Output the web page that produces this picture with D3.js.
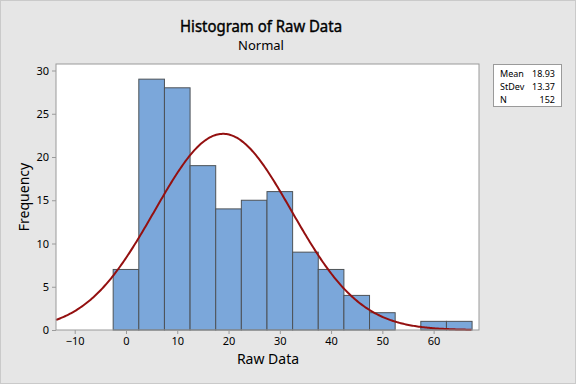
<!DOCTYPE html>
<html>
<head>
<meta charset="utf-8">
<script src="https://cdn.jsdelivr.net/npm/d3@7"></script>
<style>
  body { margin: 0; background: #e6e6e6; }
  svg { display: block; font-family: "Segoe UI", "Noto Sans", sans-serif; }
</style>
</head>
<body>
<svg id="chart" width="576" height="384"></svg>
<script>
// histogram bins (lower edge) and counts
const binStarts = [-2.5, 2.5, 7.5, 12.5, 17.5, 22.5, 27.5, 32.5, 37.5, 42.5, 47.5, 52.5, 57.5, 62.5];
const counts = [7, 29, 28, 19, 14, 15, 16, 9, 7, 4, 2, 0, 1, 1];
const binWidth = 5;
const xTicks = [-10, 0, 10, 20, 30, 40, 50, 60];
const yTicks = [0, 5, 10, 15, 20, 25, 30];
const statLabels = ['Mean', 'StDev', 'N'];
const statValues = ['18.93', '13.37', '152'];
const mean = 18.93, sd = 13.37, n = 152;

const svg = d3.select('#chart');
const W = 576, H = 384;

svg.append('rect')
  .attr('x', 0.5).attr('y', 0.5)
  .attr('width', W - 1).attr('height', H - 1)
  .attr('fill', '#e6e6e6').attr('stroke', '#cacaca');

const plot = {left: 56, right: 479, top: 64, bottom: 330};

const x = d3.scaleLinear().domain([-13.65, 68.85]).range([plot.left, plot.right]);
const y = d3.scaleLinear().domain([0, 30]).range([plot.bottom, 70.5]);

svg.append('rect')
  .attr('x', plot.left).attr('y', plot.top)
  .attr('width', plot.right - plot.left).attr('height', plot.bottom - plot.top)
  .attr('fill', '#fff');

// bars
svg.append('g').selectAll('rect')
  .data(binStarts.map((s, i) => ({s, c: counts[i]})).filter(d => d.c > 0))
  .join('rect')
  .attr('x', d => x(d.s))
  .attr('y', d => y(d.c))
  .attr('width', d => x(d.s + binWidth) - x(d.s))
  .attr('height', d => y(0) - y(d.c))
  .attr('fill', '#7ba7da')
  .attr('stroke', '#4d5257')
  .attr('stroke-width', 1);

// fitted normal curve
const pdf = v => n * binWidth * Math.exp(-0.5 * ((v - mean) / sd) ** 2) / (sd * Math.sqrt(2 * Math.PI));
const xs = d3.range(-13.65, 67.5, 0.25);
svg.append('path')
  .datum(xs)
  .attr('fill', 'none')
  .attr('stroke', '#941010')
  .attr('stroke-width', 2)
  .attr('d', d3.line().x(d => x(d)).y(d => y(pdf(d))));

// frame
svg.append('rect')
  .attr('x', plot.left).attr('y', plot.top)
  .attr('width', plot.right - plot.left).attr('height', plot.bottom - plot.top)
  .attr('fill', 'none').attr('stroke', '#9a9a9a');

// axes
const xAxis = svg.append('g')
  .attr('transform', `translate(0,${plot.bottom})`)
  .call(d3.axisBottom(x).tickValues(xTicks).tickSize(4).tickPadding(3).tickFormat(d3.format('d')));
const yAxis = svg.append('g')
  .attr('transform', `translate(${plot.left},0)`)
  .call(d3.axisLeft(y).tickValues(yTicks).tickSize(4).tickPadding(3));
[xAxis, yAxis].forEach(a => {
  a.select('.domain').remove();
  a.selectAll('line').attr('stroke', '#9a9a9a');
  a.selectAll('text').attr('fill', '#000').style('font-size', '11px')
    .style('font-family', '"Segoe UI", "Noto Sans", sans-serif');
});

// titles
svg.append('text').attr('x', 261).attr('y', 32).attr('text-anchor', 'middle')
  .style('font-size', '16px')
  .attr('stroke', '#000').attr('stroke-width', 0.4)
  .attr('textLength', 162).attr('lengthAdjust', 'spacingAndGlyphs')
  .text('Histogram of Raw Data');
svg.append('text').attr('x', 261).attr('y', 50).attr('text-anchor', 'middle')
  .style('font-size', '13px').text('Normal');
svg.append('text').attr('x', 268).attr('y', 364).attr('text-anchor', 'middle')
  .style('font-size', '14px').text('Raw Data');
svg.append('text').attr('transform', 'translate(29,197) rotate(-90)').attr('text-anchor', 'middle')
  .style('font-size', '14px').text('Frequency');

// stats box
const box = svg.append('g');
box.append('rect').attr('x', 493.5).attr('y', 64.5).attr('width', 68).attr('height', 42)
  .attr('fill', '#fff').attr('stroke', '#9a9a9a');
statLabels.forEach((l, i) => {
  box.append('text').attr('x', 500).attr('y', 77 + i * 13).style('font-size', '9px').text(l);
  box.append('text').attr('x', 555).attr('y', 77 + i * 13).attr('text-anchor', 'end')
    .style('font-size', '9px').text(statValues[i]);
});
</script>
</body>
</html>
